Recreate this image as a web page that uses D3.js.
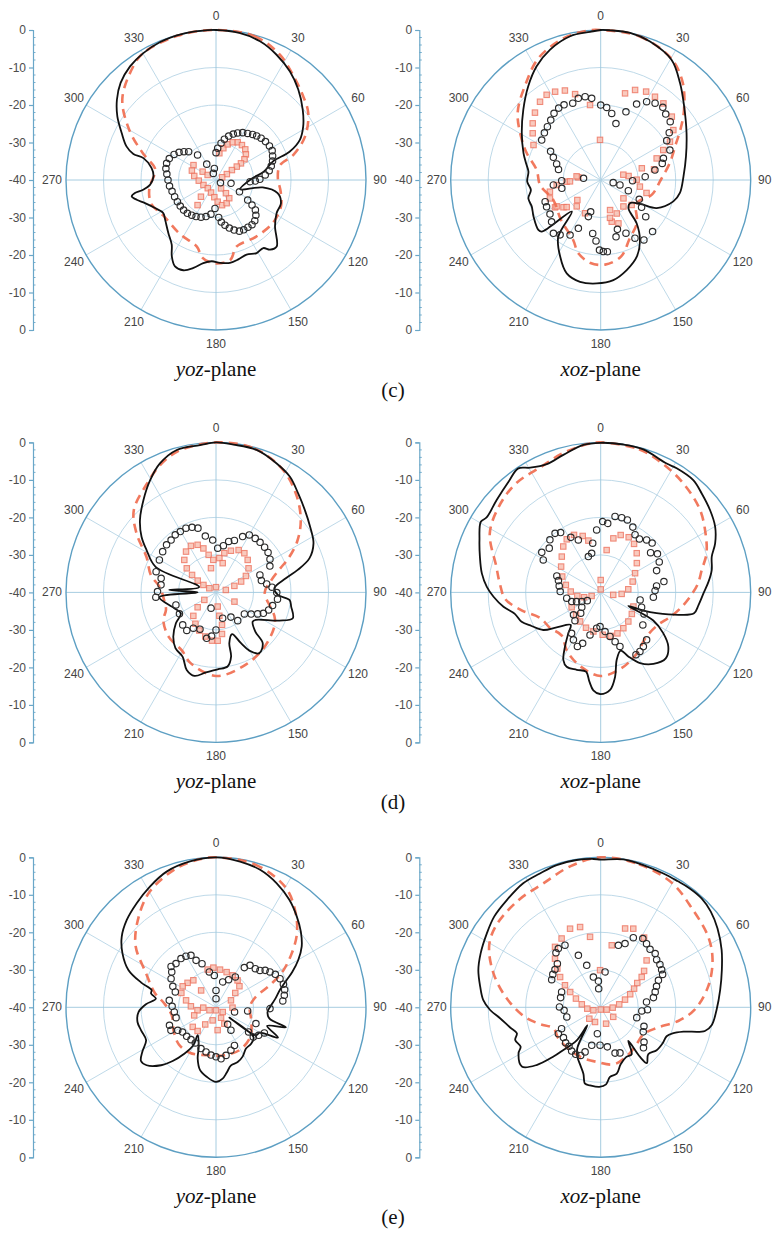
<!DOCTYPE html>
<html>
<head>
<meta charset="utf-8">
<script src="https://cdnjs.cloudflare.com/ajax/libs/d3/7.8.5/d3.min.js"></script>
<style>
  html, body { margin: 0; padding: 0; background: #fff; }
  svg { display: block; }
</style>
</head>
<body>
<svg id="fig" width="773" height="1233"></svg>
<script>
// Radiation patterns: [angle in degrees (clockwise from 0), normalized gain in dB]

// ---- (c) yoz-plane ----
const c_yoz_solid = [[0,0],[9,-0.3],[17.6,-1.2],[25.8,-2.9],[34.3,-5.0],[42.3,-7.4],[50.9,-10.2],[58.4,-12.7],[64.4,-15.2],[69,-19],[72,-24.1],[80,-27],[88,-30.5],[111,-33.1],[99,-27.4],[102,-23.2],[109.7,-21.6],[118.5,-21.6],[128.1,-20.0],[137.6,-16.0],[142.2,-16.5],[145.2,-17.9],[150.9,-17.7],[157.7,-18.5],[164.3,-18.0],[170.4,-17.6],[177.2,-17.9],[183,-18.3],[188.7,-17.6],[194.4,-15.8],[199.9,-14.4],[205.4,-14.5],[210.1,-16.5],[214.4,-19.1],[222,-21.0],[232.1,-22.8],[238,-23.4],[245.3,-22.1],[252,-20.1],[256,-18.2],[259,-17.1],[260.9,-18.1],[262.4,-20.4],[266,-22.4],[273.3,-23.3],[280.6,-22.5],[286.8,-19.8],[287.5,-16.9],[290.6,-14.5],[296.5,-11.9],[302.8,-8.7],[309,-6.0],[315.5,-3.7],[322.9,-2.0],[330.2,-1.0],[338,-0.3],[347.5,0],[354,0]];
const c_yoz_dashed = [[0,0],[15,-0.3],[27,-2.5],[37,-5.5],[45,-7.5],[54,-9.6],[64,-13.6],[72,-18.3],[77,-22.5],[88,-23.5],[100,-22.5],[112,-21.3],[127,-21],[145,-21.5],[163,-21.4],[170,-18.3],[182,-17.8],[190,-19],[196,-21.5],[214,-22.7],[235,-23.1],[250,-21.6],[263,-22.1],[275,-23.5],[281,-23.4],[290,-19.3],[300,-13.3],[311,-6.9],[324,-2.5],[330,-1.0],[345,-0.2]];
const c_yoz_circle = [[0,-32.7],[3,-31.5],[7.8,-30.1],[11.6,-28.9],[16.1,-27.8],[20.6,-26.9],[24.7,-26.2],[29.4,-25.5],[34.2,-25],[38.8,-24.4],[42.7,-24],[47.2,-23.6],[52.2,-23.3],[57.5,-23.1],[62.4,-23.1],[67,-23.6],[71.5,-24.1],[75.8,-24.8],[80.1,-25.6],[84.2,-26.8],[89.1,-28.3],[91.5,-29.5],[92.8,-30.9],[116.6,-33],[122.3,-30],[124.8,-28.3],[127.3,-26.8],[131.5,-25.8],[136.4,-25],[141.1,-24.7],[145.9,-24.8],[150.9,-24.8],[155.4,-25],[160.1,-25.8],[164.5,-26.7],[168.8,-27.7],[172.8,-28.7],[175.9,-30],[182,-32.4],[188.4,-30.8],[195.3,-29.9],[201.9,-29.3],[208.6,-28.9],[214.6,-28.6],[220.7,-28.3],[227.1,-28.2],[233.9,-28.2],[240.7,-28.2],[248,-28.1],[255.6,-27.9],[262.6,-27.5],[270,-27.2],[276.9,-26.8],[282.8,-26.3],[288.7,-26.1],[294.6,-26.3],[301.4,-26.9],[306.8,-27.7],[311.5,-28.6],[316,-29.5],[323.7,-31.7],[329.7,-35.1],[351.9,-36.9],[338,-38.1],[121.6,-38.6],[102.5,-35.9]];
const c_yoz_square = [[7.1,-32.8],[13,-31.3],[18.1,-30],[23.9,-29],[29.9,-28.4],[36.6,-28.4],[43.7,-28.7],[49.4,-29.5],[53.9,-30.6],[56.3,-32],[57.2,-33.4],[58,-35],[61.4,-36.7],[66,-38.2],[303.5,-32.8],[291.3,-33.1],[280.5,-34.1],[267.8,-35.4],[248.5,-36.4],[225,-36.9],[201.5,-36.4],[185.5,-35.4],[175.6,-34.2],[166.5,-33.1],[155.4,-33.2],[144,-34],[143,-35.6],[149,-37.4],[216.3,-31.7],[222,-34],[302,-35.8],[301,-37.4]];

// ---- (c) xoz-plane ----
const c_xoz_solid = [[0,0],[3.6,0],[11.3,0],[19.6,-0.8],[30.5,-2.8],[39.3,-6.6],[48.5,-10.3],[61.3,-13.9],[74.5,-16.4],[87.5,-17.9],[99.3,-18.6],[106.4,-19.8],[116.6,-23.3],[121,-27.5],[128,-30],[135.7,-29.4],[140.3,-25],[146.8,-20.9],[154.8,-17.4],[163.9,-15],[172.8,-13.1],[182.2,-12.4],[191.5,-12.3],[200,-13.5],[207.9,-16.9],[216.8,-21.1],[222.5,-28.6],[228.8,-19.1],[231.3,-18.7],[241.4,-19.6],[248.9,-20.3],[255.8,-20.1],[261.9,-21.2],[268.7,-20.4],[276.6,-20.6],[282.6,-19.6],[289.2,-18.2],[300.8,-15.5],[312.3,-12.1],[322.3,-8.4],[330.6,-5.2],[338.8,-2.7],[348,-0.8],[355.9,-0.4]];
const c_xoz_dashed = [[0,0],[15,-0.3],[30,-2.5],[40,-6],[50,-11],[58,-15],[65,-18],[72,-20],[78,-21.5],[90,-24],[106,-25.8],[123,-28.6],[140,-25],[154,-22.5],[165,-18.9],[177,-17.4],[187,-17.7],[197,-19.6],[205,-22.5],[225,-25],[247,-26.3],[265,-23.8],[279,-22.7],[290,-19],[297,-16.4],[309,-11.5],[322,-7.5],[333,-3.5],[345,-1],[355,0]];
const c_xoz_circle = [[304.1,-21],[310,-20.4],[315,-19.9],[320.2,-19.2],[325,-18.3],[329.7,-17.8],[334,-17.7],[340,-18.2],[344.7,-17.4],[349.4,-17.4],[353.7,-18.1],[0,-20],[4.7,-20.6],[9.4,-22],[15.1,-24.4],[20.3,-20.6],[25.3,-17.6],[30.4,-15.8],[35.3,-14.9],[40.5,-14.5],[44.6,-15.3],[50,-15.8],[55.4,-17.8],[59.2,-19.5],[66.6,-19.9],[70.9,-22.3],[74.9,-23],[79.6,-25.3],[85.7,-28.1],[91.2,-31.5],[104.5,-34.7],[101.9,-36.6],[111.1,-32.1],[116.6,-28.5],[123.7,-26.9],[129.2,-24.5],[134.8,-20.5],[144.2,-20.3],[149.5,-22],[154.6,-24.3],[161.3,-26.1],[164.9,-24.3],[174.7,-20.8],[177.9,-20.9],[181,-21.3],[184.4,-23.7],[188.5,-25.6],[198.6,-29.7],[197.5,-31.1],[204.8,-25.8],[209.1,-23.2],[216.5,-21.8],[221.6,-21],[229.6,-22.8],[236.1,-23.7],[243.7,-23.9],[248.7,-24.1],[257.9,-29.4],[264,-27.3],[275.5,-35.4],[269,-29.6],[284.1,-28.4],[290,-27.5],[295.6,-26],[299.8,-24.6]];
const c_xoz_square = [[297.5,-19.8],[304.5,-18],[309.8,-16.4],[315.7,-14.9],[322.2,-13.6],[327.6,-13.1],[332.7,-13.5],[338.2,-14.3],[343.4,-16.1],[351.9,-19.8],[359,-29.3],[15.7,-16],[20.9,-14.3],[27.2,-13.5],[33.1,-13.5],[39.3,-13.6],[48.3,-14.6],[55.5,-16.5],[61.1,-18.9],[64.4,-21.5],[68.9,-24],[78.7,-25.5],[74.1,-28.6],[81.8,-32.5],[99.6,-29.4],[128.9,-32.2],[128.9,-29.4],[154.4,-30.1],[165.2,-28.5],[162.7,-31.6],[157.8,-27.5],[205.2,-30.2],[229.4,-31.8],[233.8,-27.7],[239.1,-25.8],[250.1,-25.6],[257,-26.1],[263.5,-28.2],[276.8,-34],[267.2,-30.9],[267.5,-31.8],[278.7,-33.5],[239.1,-26.3],[231.5,-28.4],[222.3,-30.5],[76.8,-33.8],[89.5,-30.4],[105.8,-27.3],[139.3,-30.7],[166.2,-29.6]];

// ---- (d) yoz-plane ----
const d_yoz_solid = [[0,0],[6.7,-0.3],[15.9,-0.5],[25.2,-2],[32.6,-3.4],[39.7,-5.7],[47.2,-7.7],[55.1,-9.4],[63.3,-10.9],[70,-13.5],[74.6,-17.4],[78.6,-21],[85.9,-24.4],[92.3,-23.5],[95.8,-20.3],[100.7,-19.6],[108.6,-18.4],[114,-21.5],[124.5,-27.1],[128.5,-27.5],[134.9,-25.2],[137.4,-21.6],[144.5,-20.1],[150.2,-22.1],[153.8,-24.9],[158.9,-28.1],[165.3,-26],[166.8,-22.4],[171.1,-20],[178.8,-19.5],[187.1,-18.5],[194.5,-17],[200.7,-17.9],[207.5,-20.7],[216,-21.6],[224,-23.6],[232.4,-26.5],[239.2,-29.1],[249.2,-28.1],[265.1,-24.8],[270,-35.1],[273,-27.5],[287.2,-35.3],[292.8,-22.6],[301.4,-18.3],[306.8,-15.2],[313.6,-12],[321.8,-8.7],[329.6,-5.3],[336.5,-2.5],[344.6,-0.6],[353.8,-0.5]];
const d_yoz_dashed = [[0,0],[15,-0.3],[28.8,-2.8],[40,-6.5],[50,-10.5],[58,-14.5],[65,-18.8],[70,-22],[78,-25],[90,-27],[105,-25],[112,-23.2],[120,-22],[140,-20.4],[160,-19],[180,-17.7],[200,-20],[210,-22],[227,-22.7],[242,-24.1],[251,-25.9],[262,-26],[275,-25],[285,-22],[297,-19.2],[306.6,-13.6],[315,-9],[327.8,-5.6],[336,-3],[345,-1]];
const d_yoz_circle = [[289.1,-23.1],[299.8,-22.6],[307.4,-22.1],[313.9,-21.7],[319.4,-21.6],[324.7,-21.2],[329.6,-21.2],[334.9,-21.1],[339.8,-21.5],[344.3,-22.2],[349.3,-24.7],[356.4,-26],[2.2,-28.2],[9,-27.4],[14,-26],[19.5,-25.3],[25.5,-23.5],[30.1,-22.3],[36,-22.2],[41.3,-22.2],[47.1,-22.3],[52.5,-22.5],[58.4,-23.1],[63.9,-24],[68.3,-27.4],[75.4,-27.5],[80.5,-26.3],[84.7,-25],[90.2,-23.8],[96.3,-23.5],[103.1,-24.5],[108.4,-25.2],[113.8,-26.2],[117.3,-27.5],[121.6,-29],[127.2,-30.5],[142.4,-30.5],[148.9,-32.3],[165.5,-32.9],[180,-30],[185.7,-28.3],[191.5,-27.5],[203.5,-29.3],[212.3,-28.7],[217.5,-27.2],[225.7,-27.6],[239.6,-28.7],[252.6,-28.8],[197.5,-35.6],[265.4,-23.9],[270.8,-24.4],[277.8,-25.2],[284.4,-24.9]];
const d_yoz_square = [[0,-38.6],[302,-37.9],[300.6,-36.1],[302.8,-34.2],[306.1,-32.1],[309.5,-29.9],[315.7,-27.9],[323.7,-26.5],[331.7,-25.9],[338.9,-26.4],[344,-27.8],[348.9,-29.8],[355.3,-31.3],[5.6,-30.8],[12,-29.3],[19.7,-28.2],[28.1,-27.2],[35.9,-27.1],[44.3,-27.9],[53.5,-29.2],[61.2,-30.9],[66.6,-32.7],[70.5,-34.8],[76,-37.3],[12.9,-32],[348.3,-33.4],[237.3,-36.3],[231,-33.7],[224,-31.3],[213.3,-30],[203.6,-28.9],[193.6,-27.9],[184.7,-27.1],[178,-27.1],[171.8,-28.8],[169.5,-31.2],[171.9,-33.7],[173.3,-36.2],[116.6,-34.5]];

// ---- (d) xoz-plane ----
const d_xoz_solid = [[0,-0.1],[8.7,-0.1],[16.6,-0.2],[27.1,-1.4],[31.5,-1.2],[39.5,-1.2],[45.6,-2.3],[53,-3.5],[60.1,-4.8],[66.8,-6.8],[72.2,-8.9],[78.6,-9.8],[84.3,-11.1],[90.6,-12.6],[97.4,-13.7],[102.6,-14.5],[105.8,-18],[110.4,-24.1],[113.1,-27.6],[116,-31.8],[118.1,-24.1],[123.1,-20.1],[128.7,-16.9],[135.4,-15.3],[143.6,-16.3],[150.9,-18.4],[156.7,-21.4],[161,-23.6],[166.7,-21.5],[170.3,-17.2],[174.5,-13.9],[180.4,-12.9],[184.3,-13.8],[187.2,-16],[190.5,-18.5],[197.2,-18.4],[204.6,-18.2],[208.9,-19.4],[213.4,-22.7],[218.4,-26.1],[222.7,-28.2],[231.6,-25],[236.8,-21.7],[244.1,-19.5],[249.6,-17.5],[256,-16.4],[261.6,-13.8],[267.7,-11.4],[272.8,-9.6],[279.1,-7.9],[286.5,-6.4],[293.3,-4.8],[300.5,-2.9],[303.3,-3.6],[311.6,-2.9],[320.2,-1.6],[326.4,-0.3],[330.5,-1.8],[337.2,-2.9],[344.8,-2.0],[353.3,-0.4]];
const d_xoz_dashed = [[0,0],[15,-0.5],[25,-1.8],[37,-3.5],[50,-5.5],[61,-8],[70,-10],[77.5,-12.4],[85,-14],[93,-16.2],[102,-18.5],[110,-20.5],[120,-22.5],[135,-23],[150,-21],[165,-19],[180,-17.7],[195,-19.5],[210,-22],[222,-24.5],[235,-23.5],[247,-22.5],[257,-18.5],[266,-14.5],[275,-13],[284,-11.3],[298,-6.5],[310,-4.5],[322,-3.2],[335,-2.9],[345,-1.5],[355,-0.3]];
const d_xoz_circle = [[10.7,-19.4],[15.7,-19.3],[20.2,-19.4],[26.2,-20.6],[30.8,-22.1],[35.9,-22.4],[41.2,-21.4],[46.2,-21],[51.5,-23],[55.8,-21.7],[62.5,-22.4],[68.7,-24],[80.3,-22.9],[83.4,-25],[88.1,-25.5],[95.2,-25.9],[100.8,-29.3],[109.9,-28.4],[116.4,-27.1],[127.7,-25.8],[135.9,-22.4],[141.8,-21.6],[146.4,-21.1],[150.5,-20.9],[160.4,-24.7],[163.7,-26.3],[168.1,-28],[173.7,-29.5],[181.1,-30.9],[186.4,-30.4],[194.1,-28.3],[199.5,-25.6],[203.3,-24.3],[209.9,-25.4],[215.4,-26.6],[222.3,-29.8],[230.5,-30.6],[223.8,-32.3],[232,-33.6],[238.5,-35.8],[244.2,-34.4],[249.1,-33.1],[252.5,-31.9],[260.3,-30.8],[271.2,-29.2],[278.9,-28.8],[285.6,-28.3],[290.6,-27.5],[299.5,-22.4],[304.2,-21],[310.7,-21.9],[316,-20.5],[322.3,-20.1],[326.2,-20.8],[331.5,-23.3],[336.9,-24.8],[341,-29.9],[347,-29.3],[350.8,-26.7],[356.3,-23.3],[1.6,-21.1],[5.8,-21.5]];
const d_xoz_square = [[320.8,-24.2],[327.4,-23.2],[335.1,-23.1],[342.3,-24.2],[346.6,-25.8],[312.6,-25.9],[303.1,-27.4],[292.4,-28.9],[282.1,-30.5],[271.6,-32],[261.5,-33.7],[253.8,-35.4],[248.7,-37.4],[8,-28.6],[0,-36.7],[0,-39.2],[13.2,-25.2],[19.2,-23.8],[26.9,-23.5],[34.5,-24.3],[42.6,-25.8],[51,-27.6],[60.8,-29.5],[71.3,-31],[83.5,-32.6],[94.1,-34.4],[101.2,-36.6],[242.9,-31.3],[227.6,-31.1],[215.3,-30.5],[202.6,-29.8],[190.6,-29.4],[177.3,-28.7],[167.1,-28.1],[157.8,-28.2],[147.7,-28.7],[136.5,-29.3],[124.7,-29.9],[113.4,-30.5]];

// ---- (e) yoz-plane ----
const e_yoz_solid = [[0,0],[9.4,-0.6],[17.8,-1.5],[26.1,-3.2],[34.3,-5.3],[41.7,-7.6],[48.3,-9.7],[54.7,-12],[60.1,-14.7],[65.2,-17.6],[68.9,-19.8],[74.6,-22.3],[81.7,-24],[87.9,-25.3],[95.2,-26.2],[102,-25.4],[106,-20.6],[110,-25.5],[116,-21.6],[120,-26.5],[125,-27],[127.5,-35.5],[128.5,-27.2],[136.1,-26.5],[144,-26.4],[151.4,-25.1],[158.4,-24.3],[165.5,-24],[170.8,-22.3],[174.7,-20.9],[180,-20.1],[187.6,-21.3],[194.2,-22.7],[199.7,-25.5],[203.6,-28.5],[213.2,-31.1],[210.8,-28.2],[214.3,-25],[218.9,-21.6],[223.5,-18.7],[230.1,-15.9],[234.4,-15.4],[239.2,-17.2],[244.8,-19.4],[252.9,-19.1],[259.4,-18.7],[266.5,-19.3],[272.5,-21.3],[278.2,-23.8],[282,-22.3],[285.1,-22.2],[288.3,-19],[293.1,-14.6],[300,-11.2],[306.8,-8.6],[314.4,-6.7],[322.7,-5.1],[331.3,-3.3],[340,-1.5],[349.9,-0.5]];
const e_yoz_dashed = [[0,0],[15,-0.5],[30,-3],[40,-7],[48,-11],[55,-15.5],[62,-20],[67,-24],[77,-29.5],[90,-31],[110,-30],[130,-28],[150,-27],[170,-27],[190,-27],[210,-26],[225,-26],[240,-27],[260,-28],[275,-26],[283,-23.3],[297,-18.8],[307,-13.2],[317,-9.2],[330,-4.5],[345,-1.3],[355,-0.2]];
const e_yoz_circle = [[324.3,-24],[329.5,-24.2],[334.3,-24.6],[337,-26.4],[342.2,-27.8],[317.5,-24.2],[312.3,-23.8],[308.6,-24.9],[302.5,-25.8],[295.9,-27.2],[290.7,-28.4],[278.5,-27.4],[271.3,-28.3],[263.6,-28.8],[255.5,-29],[248.9,-26.7],[242.9,-26.5],[239,-28.1],[233.5,-28.9],[225.3,-29],[217.7,-29.1],[210.1,-29],[200,-28.3],[192.6,-27.8],[186,-27.2],[180,-26.8],[174.4,-26.2],[168.2,-26.9],[160.8,-27.9],[154.2,-28.7],[349.3,-30.4],[357,-31.5],[0,-35.5],[0,-37.7],[14.7,-33],[24.6,-31.9],[32.5,-30.4],[35.5,-27],[39,-25.6],[45.5,-25.3],[50,-24.7],[53.1,-23.6],[56.8,-22.8],[60.9,-21.9],[65.9,-21.3],[71.1,-21],[75.6,-21.1],[80,-21.5],[84.6,-22.1],[91.4,-25.6],[96.6,-31.5],[112.2,-28.5],[127.1,-29.1],[128.5,-27.3],[123.3,-26.4],[117.9,-25.4],[104,-34.9],[145.5,-34.5],[146.9,-32.7]];
const e_yoz_square = [[347.5,-29.7],[356.2,-29.4],[6.1,-29.9],[16.8,-30.2],[27.5,-30.4],[38.7,-30.8],[48,-31.6],[53.4,-33.6],[65,-35.6],[320,-30.6],[310.7,-30],[302.2,-29.5],[292.5,-30],[283.1,-31.8],[272.3,-33.3],[260.7,-35],[268.5,-36.6],[245.8,-38.1],[180,-39.2],[318.6,-34],[229.9,-31.9],[217.8,-32],[212.1,-34.6],[194.4,-36.4],[154.2,-36.9],[153,-35.1],[175.9,-33.9],[91.1,-35.6],[125,-37.8],[249.7,-33.8]];

// ---- (e) xoz-plane ----
const e_xoz_solid = [[0,-0.6],[8.7,-0.1],[16.7,-0.4],[25.1,-0.6],[31.3,-0.6],[36.5,-0.4],[42.8,-0.4],[49,-1.1],[55.9,-2.4],[64.6,-4.3],[72.9,-6.2],[81.7,-7.8],[91.3,-9.1],[99,-10],[102.8,-11.5],[106.4,-17],[109.9,-19.6],[113.7,-20.8],[119.9,-20.9],[127.5,-21.2],[134.6,-22.2],[140.4,-20.7],[141.6,-23.1],[140.6,-28.4],[146.6,-25],[153,-25.1],[160.7,-23.9],[166.4,-21.8],[172.4,-21.3],[176,-19.4],[181,-18.8],[187.8,-19],[191.6,-19.2],[194.6,-21.7],[199.9,-23.8],[205.2,-25.4],[210,-27.6],[216.5,-34],[216,-29],[221.2,-24.9],[223.8,-21.8],[228,-17],[233.1,-13.7],[240.8,-14.9],[243.8,-16.2],[249.1,-15.6],[252.8,-16.6],[257.6,-15.2],[263.8,-13],[268.6,-10.5],[273.6,-8.6],[279.7,-7.4],[286.9,-5.9],[294.2,-4.9],[303,-3.8],[310.4,-2.7],[318.8,-2],[328,-1],[335.6,-0.8],[342.8,-0.3],[350.7,-0.2],[357.2,-0.4]];
const e_xoz_dashed = [[0,0],[15,-0.5],[30,-1.8],[42.6,-4.1],[56.7,-5.7],[67,-7.6],[79,-10.8],[91.6,-15],[100,-19],[110,-24],[122,-26.5],[140,-26],[155,-25],[167.5,-24.4],[184,-25.4],[202,-25.7],[220,-26],[234,-26],[246,-26.2],[255,-23],[263,-19.5],[275.5,-14.8],[287.6,-10],[299,-6],[308,-4.6],[322,-4],[335,-3.6],[348,-1.5]];
const e_xoz_circle = [[330.1,-20.9],[324.2,-20.7],[320.6,-21.2],[315.2,-23.6],[309.5,-24.2],[304.5,-24.5],[299.4,-25],[291.5,-28.8],[283.6,-29],[270.5,-29],[265.3,-30.2],[254.1,-30.6],[241.3,-28.1],[238.1,-26.7],[230.9,-27.2],[224.7,-26.7],[219.1,-26.6],[213.6,-26],[208,-25.8],[202.6,-26.1],[199.3,-27.4],[193.3,-29.6],[181,-29.9],[170.5,-29.3],[162.6,-27.2],[157.1,-26.8],[187.2,-32.9],[336.8,-24.9],[341.6,-28.2],[346.4,-31.7],[355,-33],[353.9,-35],[7,-30.5],[15.9,-22.8],[20.9,-21.8],[25.1,-19.5],[31.5,-18.5],[35.8,-19.1],[40.4,-19.7],[45.4,-19.6],[49.6,-20.4],[54.1,-20.5],[58.3,-20.9],[62,-21.3],[64.9,-23],[69.4,-24.1],[74.2,-24.9],[79.6,-25.7],[83.4,-27.7],[92.9,-27.5],[95.1,-29],[106,-30],[113.7,-27.4],[120,-26.9],[128.7,-25.2],[133.4,-24.3]];
const e_xoz_square = [[330.4,-18.9],[338.7,-17.5],[345.6,-17.9],[351.4,-21],[322.9,-19.8],[316.8,-22.2],[311.7,-24.5],[306.7,-26.5],[301.7,-28.8],[296.6,-30.9],[289.4,-33],[279,-34.9],[264.3,-36.4],[247.8,-37.9],[180,-39.4],[111.3,-38.3],[91.6,-36.8],[80.9,-35],[72.5,-33.2],[66.1,-31.4],[60.8,-29.8],[56.4,-28.3],[53.5,-26.4],[50,-24.9],[44.4,-22.5],[31.9,-18.1],[22.5,-17.3],[17.2,-18],[10.1,-23.2],[359,-30.1],[201.1,-35.8],[161.9,-35.4],[225,-35.7],[127.3,-35.8]];

// axis annotation
const angleTicks = [0,30,60,90,120,150,180,210,240,270,300,330];
const gridLevels = [-30,-20,-10];
const yTickLabels = ["0","-10","-20","-30","-40","-30","-20","-10","0"];

const panels = [
  {cx:216,   cy:180,    ax:33,    plane:"yoz", solid:c_yoz_solid, dashed:c_yoz_dashed, circle:c_yoz_circle, square:c_yoz_square},
  {cx:600.7, cy:180,    ax:419.3, plane:"xoz", solid:c_xoz_solid, dashed:c_xoz_dashed, circle:c_xoz_circle, square:c_xoz_square},
  {cx:216,   cy:592.4,  ax:33,    plane:"yoz", solid:d_yoz_solid, dashed:d_yoz_dashed, circle:d_yoz_circle, square:d_yoz_square},
  {cx:600.7, cy:592.4,  ax:419.3, plane:"xoz", solid:d_xoz_solid, dashed:d_xoz_dashed, circle:d_xoz_circle, square:d_xoz_square},
  {cx:216,   cy:1007.3, ax:33,    plane:"yoz", solid:e_yoz_solid, dashed:e_yoz_dashed, circle:e_yoz_circle, square:e_yoz_square},
  {cx:600.7, cy:1007.3, ax:419.3, plane:"xoz", solid:e_xoz_solid, dashed:e_xoz_dashed, circle:e_xoz_circle, square:e_xoz_square}
];
const rowLabels = [{t:"(c)", cy:180}, {t:"(d)", cy:592.4}, {t:"(e)", cy:1007.3}];

const R = 150;
const rScale = d3.scaleLinear().domain([-40, 0]).range([0, R]).clamp(true);
const rad = d => d * Math.PI / 180;
const px = d => rScale(d[1]) * Math.sin(rad(d[0]));
const py = d => -rScale(d[1]) * Math.cos(rad(d[0]));

const radial = d3.lineRadial()
  .angle(d => rad(d[0]))
  .radius(d => rScale(d[1]))
  .curve(d3.curveCatmullRomClosed.alpha(0.5));

const svg = d3.select("#fig");
svg.append("rect").attr("width", 773).attr("height", 1233).attr("fill", "#fff");

const gridCol = "#b7d5e5", rimCol = "#5d9fc3", axisCol = "#6aa7c8";
const numFont = "Liberation Sans, Arial, sans-serif";

panels.forEach(p => {
  // dB scale at the left of each pattern
  const yScale = d3.scaleLinear().domain([0, 8]).range([p.cy - R, p.cy + R]);
  const yAxis = svg.append("g")
    .attr("transform", `translate(${p.ax},0)`)
    .call(d3.axisLeft(yScale).tickValues(d3.range(9)).tickFormat(i => yTickLabels[i]).tickSize(4).tickPadding(3));
  yAxis.select(".domain").attr("stroke", axisCol).attr("stroke-width", 1.2);
  yAxis.selectAll(".tick line").attr("stroke", axisCol).attr("stroke-width", 1.2);
  yAxis.selectAll(".tick text").attr("fill", "#4d4d4d").attr("font-family", numFont).attr("font-size", 12);
  const minor = d3.range(0, 8.01, 0.2).filter(v => Math.abs(v - Math.round(v)) > 0.01);
  yAxis.selectAll(".minor").data(minor).join("line")
    .attr("x1", 0).attr("x2", 2.5)
    .attr("y1", v => yScale(v)).attr("y2", v => yScale(v))
    .attr("stroke", axisCol).attr("stroke-width", 0.9);

  const g = svg.append("g").attr("transform", `translate(${p.cx},${p.cy})`);

  // polar grid
  g.selectAll(".ring").data(gridLevels).join("circle")
    .attr("r", d => rScale(d)).attr("fill", "none")
    .attr("stroke", gridCol).attr("stroke-width", 0.9);
  g.selectAll(".spoke").data(angleTicks).join("line")
    .attr("x1", 0).attr("y1", 0)
    .attr("x2", a => R * Math.sin(rad(a))).attr("y2", a => -R * Math.cos(rad(a)))
    .attr("stroke", a => (a % 90 === 0) ? "#9cc6dc" : gridCol).attr("stroke-width", 0.9);
  g.append("circle").attr("r", R).attr("fill", "none")
    .attr("stroke", rimCol).attr("stroke-width", 1.4);

  // angle labels
  g.selectAll(".alab").data(angleTicks).join("text")
    .attr("x", a => 164 * Math.sin(rad(a)))
    .attr("y", a => -164 * Math.cos(rad(a)))
    .attr("text-anchor", "middle").attr("dominant-baseline", "central")
    .attr("font-family", numFont).attr("font-size", 12)
    .attr("fill", "#444")
    .text(a => a);

  // cross-polar squares
  g.selectAll(".sq").data(p.square).join("rect")
    .attr("x", d => px(d) - 2.7).attr("y", d => py(d) - 2.7)
    .attr("width", 5.4).attr("height", 5.4)
    .attr("fill", "#f8c1b3").attr("stroke", "#ee7561").attr("stroke-width", 1.1).attr("opacity", 0.85);

  // dashed pattern
  g.append("path").datum(p.dashed).attr("d", radial)
    .attr("fill", "none").attr("stroke", "#f06a4c").attr("stroke-width", 2.6)
    .attr("stroke-dasharray", "9,6").attr("opacity", 0.9);

  // solid pattern
  g.append("path").datum(p.solid).attr("d", radial)
    .attr("fill", "none").attr("stroke", "#111").attr("stroke-width", 1.8)
    .attr("stroke-linejoin", "round");

  // cross-polar circles
  g.selectAll(".ci").data(p.circle).join("circle")
    .attr("cx", px).attr("cy", py).attr("r", 3.2)
    .attr("fill", "none").attr("stroke", "#2b2b2b").attr("stroke-width", 1.15);

  // caption
  const cap = svg.append("text")
    .attr("x", p.cx).attr("y", p.cy + 196)
    .attr("text-anchor", "middle")
    .attr("font-family", "Liberation Serif, Times New Roman, serif").attr("font-size", 21)
    .attr("fill", "#111");
  cap.append("tspan").attr("font-style", "italic").text(p.plane);
  cap.append("tspan").text("-plane");
});

rowLabels.forEach(r => {
  svg.append("text")
    .attr("x", 393).attr("y", r.cy + 217)
    .attr("text-anchor", "middle")
    .attr("font-family", "Liberation Serif, Times New Roman, serif").attr("font-size", 21)
    .attr("fill", "#111")
    .text(r.t);
});
</script>
</body>
</html>
